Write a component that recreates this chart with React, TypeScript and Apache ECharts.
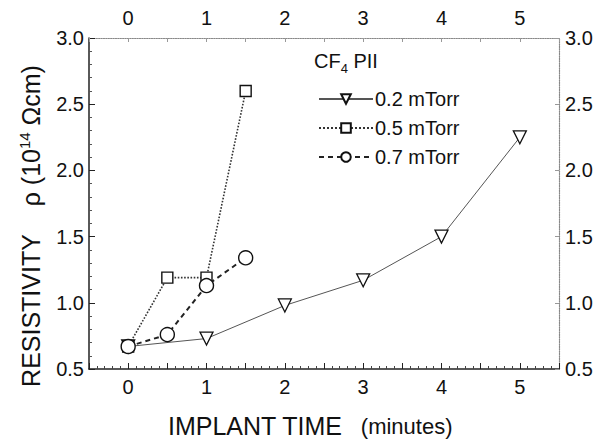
import React, { useEffect, useRef } from "react";
import * as echarts from "echarts";

const seriesNames = ["0.2 mTorr", "0.5 mTorr", "0.7 mTorr"];
const time02 = [0, 1, 2, 3, 4, 5];
const rho02 = [0.67, 0.73, 0.98, 1.17, 1.5, 2.25];
const time05 = [0, 0.5, 1, 1.5];
const rho05 = [0.67, 1.19, 1.19, 2.6];
const time07 = [0, 0.5, 1, 1.5];
const rho07 = [0.67, 0.76, 1.13, 1.34];
const xTickLabels = [0, 1, 2, 3, 4, 5];
const yTickLabels = [0.5, 1.0, 1.5, 2.0, 2.5, 3.0];

const FONT = "Liberation Sans, Arial, sans-serif";

export default function App() {
  const ref = useRef<HTMLDivElement>(null);
  useEffect(() => {
    if (!ref.current) return;
    document.body.style.margin = "0";
    const chart = echarts.init(ref.current, undefined, { renderer: "svg" });
    const zip = (xs: number[], ys: number[]) => xs.map((x, i) => [x, ys[i]]);
    const xLabelFmt = (v: number) => (xTickLabels.indexOf(v) >= 0 ? String(v) : "");
    const yLabelFmt = (v: number) => {
      const f = yTickLabels.find((t) => Math.abs(t - v) < 1e-6);
      return f !== undefined ? f.toFixed(1) : "";
    };
    const labelStyle = { color: "#111", fontSize: 20, fontFamily: FONT };
    const solidAxis = { lineStyle: { color: "#222", width: 1.5 } };
    const dottedAxis = { lineStyle: { color: "#888", width: 1.2, type: "dotted" as const } };
    chart.setOption({
      animation: false,
      backgroundColor: "#fff",
      grid: { left: 89, right: 37, top: 38, bottom: 77, containLabel: false },
      xAxis: [
        {
          type: "value",
          position: "bottom",
          min: -0.5,
          max: 5.5,
          interval: 0.5,
          axisLine: { onZero: false, ...solidAxis },
          axisTick: { show: true, inside: true, length: 6, lineStyle: { color: "#222" } },
          minorTick: { show: true, splitNumber: 5, length: 3, lineStyle: { color: "#444" } },
          axisLabel: { ...labelStyle, margin: 8, formatter: xLabelFmt },
          splitLine: { show: false },
        },
        {
          type: "value",
          position: "top",
          min: -0.5,
          max: 5.5,
          interval: 0.5,
          axisLine: { onZero: false, ...dottedAxis },
          axisTick: { show: true, inside: true, length: 4, lineStyle: { color: "#999" } },
          axisLabel: { ...labelStyle, margin: 10, formatter: xLabelFmt },
          splitLine: { show: false },
        },
      ],
      yAxis: [
        {
          type: "value",
          position: "left",
          min: 0.5,
          max: 3.0,
          interval: 0.5,
          axisLine: { show: true, onZero: false, ...solidAxis },
          axisTick: { show: true, inside: true, length: 6, lineStyle: { color: "#222" } },
          minorTick: { show: true, splitNumber: 5, length: 3, lineStyle: { color: "#555" } },
          axisLabel: { ...labelStyle, margin: 5, formatter: yLabelFmt },
          splitLine: { show: false },
        },
        {
          type: "value",
          position: "right",
          min: 0.5,
          max: 3.0,
          interval: 0.5,
          axisLine: { show: true, onZero: false, ...dottedAxis },
          axisTick: { show: true, inside: true, length: 4, lineStyle: { color: "#999" } },
          axisLabel: { ...labelStyle, margin: 6, formatter: yLabelFmt },
          splitLine: { show: false },
        },
      ],
      legend: {
        orient: "vertical",
        left: 313,
        top: 84,
        itemWidth: 54,
        itemHeight: 12,
        itemGap: 9,
        data: seriesNames,
        textStyle: { color: "#111", fontSize: 20, fontFamily: FONT, padding: [0, 0, 0, -3] },
        selectedMode: false,
      },
      graphic: [
        {
          type: "text",
          left: 314,
          top: 51,
          style: {
            text: "{a|CF}{s|4}{a| PII}",
            rich: {
              a: { fontSize: 20, fontFamily: FONT, fill: "#111" },
              s: { fontSize: 13, fontFamily: FONT, fill: "#111", padding: [14, 0, 0, 0] },
            },
          },
        },
        {
          type: "text",
          x: 310,
          y: 426,
          style: {
            text: "{a|IMPLANT TIME}{b|   (minutes)}",
            align: "center",
            verticalAlign: "middle",
            rich: {
              a: { fontSize: 25, fontFamily: FONT, fill: "#111" },
              b: { fontSize: 22, fontFamily: FONT, fill: "#111" },
            },
          },
        },
        {
          type: "text",
          x: 31,
          y: 226,
          rotation: Math.PI / 2,
          style: {
            text: "{a|RESISTIVITY}{b|    ρ (10}{s|14}{b| Ωcm)}",
            align: "center",
            verticalAlign: "middle",
            rich: {
              a: { fontSize: 25, fontFamily: FONT, fill: "#111" },
              b: { fontSize: 25, fontFamily: FONT, fill: "#111" },
              s: { fontSize: 15, fontFamily: FONT, fill: "#111", padding: [0, 0, 13, 0] },
            },
          },
        },
      ],
      series: [
        {
          name: seriesNames[0],
          type: "line",
          data: zip(time02, rho02),
          symbol: "triangle",
          symbolRotate: 180,
          symbolSize: 13,
          lineStyle: { color: "#555", width: 1, type: "solid" },
          itemStyle: { color: "#fff", borderColor: "#111", borderWidth: 1.3 },
          z: 3,
        },
        {
          name: seriesNames[1],
          type: "line",
          data: zip(time05, rho05),
          symbol: "rect",
          symbolSize: 11,
          lineStyle: { color: "#333", width: 1.6, type: "dotted" },
          itemStyle: { color: "#fff", borderColor: "#111", borderWidth: 1.4 },
          z: 4,
        },
        {
          name: seriesNames[2],
          type: "line",
          data: zip(time07, rho07),
          symbol: "circle",
          symbolSize: 14,
          lineStyle: { color: "#222", width: 2, type: [5, 4] },
          itemStyle: { color: "#fff", borderColor: "#111", borderWidth: 1.4 },
          z: 5,
        },
      ],
    });
    return () => chart.dispose();
  }, []);
  return <div ref={ref} style={{ width: 596, height: 446 }} />;
}
